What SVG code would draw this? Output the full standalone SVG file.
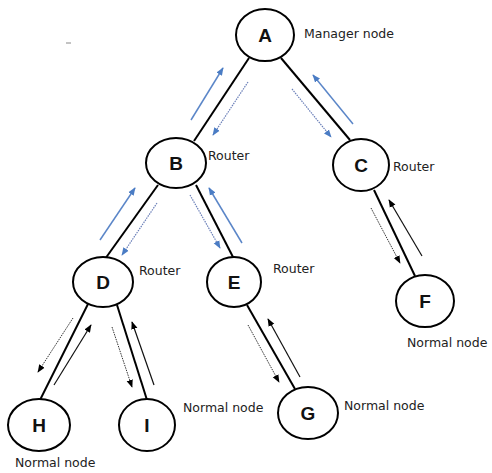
<svg xmlns="http://www.w3.org/2000/svg" width="492" height="473" viewBox="0 0 492 473">
<style>
.node ellipse{fill:#fff;stroke:#000;stroke-width:2}
.node text{font-family:"Liberation Sans",Arial,sans-serif;font-weight:bold;font-size:19px;text-anchor:middle;fill:#111}
.lbl{font-family:"DejaVu Sans",Verdana,sans-serif;font-size:12.5px;fill:#222}
.edge{stroke:#000;stroke-width:2;fill:none}
.bs{stroke:#5b86c8;stroke-width:1.5;fill:none;marker-end:url(#hb)}
.bd{stroke:#6a7fb8;stroke-width:1.2;stroke-dasharray:1.5 1;fill:none;marker-end:url(#hb)}
.ks{stroke:#111;stroke-width:1.2;fill:none;marker-end:url(#hk)}
.kd{stroke:#333;stroke-width:1;stroke-dasharray:1.5 1;fill:none;marker-end:url(#hk)}
</style>
<defs>
<marker id="hb" viewBox="0 0 10 10" refX="9" refY="5" markerWidth="8" markerHeight="8" markerUnits="userSpaceOnUse" orient="auto"><path d="M0,1 L10,5 L0,9 z" fill="#4a7cc4"/></marker>
<marker id="hk" viewBox="0 0 10 10" refX="9" refY="5" markerWidth="8" markerHeight="8" markerUnits="userSpaceOnUse" orient="auto"><path d="M0,1 L10,5 L0,9 z" fill="#000"/></marker>
</defs>
<rect width="492" height="473" fill="#fff"/>
<line x1="66" y1="43" x2="71" y2="43" stroke="#888" stroke-width="1"/>
<g id="connectors">
<line class="edge" x1="249" y1="58" x2="194" y2="141"/>
<line class="edge" x1="281" y1="58" x2="350" y2="140"/>
<line class="edge" x1="158" y1="185" x2="105" y2="259"/>
<line class="edge" x1="196" y1="185" x2="234" y2="259"/>
<line class="edge" x1="374" y1="190" x2="415" y2="276"/>
<line class="edge" x1="88" y1="304" x2="40" y2="400"/>
<line class="edge" x1="117" y1="305" x2="147" y2="400"/>
<line class="edge" x1="247" y1="305" x2="295" y2="389"/>
<line class="bs" x1="191" y1="120" x2="223" y2="68"/>
<line class="bd" x1="248" y1="82" x2="213" y2="135"/>
<line class="bs" x1="353" y1="124" x2="313" y2="75"/>
<line class="bd" x1="292" y1="89" x2="331" y2="137"/>
<line class="bs" x1="100" y1="240" x2="135" y2="188"/>
<line class="bd" x1="157" y1="203" x2="122" y2="255"/>
<line class="bs" x1="242" y1="243" x2="209" y2="188"/>
<line class="bd" x1="190" y1="195" x2="220" y2="248"/>
<line class="ks" x1="422" y1="256" x2="389" y2="200"/>
<line class="kd" x1="371" y1="208" x2="400" y2="263"/>
<line class="ks" x1="54" y1="385" x2="91" y2="325"/>
<line class="kd" x1="73" y1="318" x2="38" y2="372"/>
<line class="ks" x1="154" y1="385" x2="132" y2="322"/>
<line class="kd" x1="112" y1="327" x2="132" y2="387"/>
<line class="ks" x1="300" y1="377" x2="268" y2="319"/>
<line class="kd" x1="248" y1="325" x2="279" y2="382"/>
</g>
<g id="node-A" class="node"><ellipse cx="265" cy="35" rx="29" ry="26"/><text x="265" y="42">A</text></g>
<g id="node-B" class="node"><ellipse cx="176" cy="163" rx="30" ry="25"/><text x="176" y="170">B</text></g>
<g id="node-C" class="node"><ellipse cx="361" cy="165" rx="28" ry="26"/><text x="361" y="172">C</text></g>
<g id="node-D" class="node"><ellipse cx="103" cy="282" rx="30" ry="25"/><text x="103" y="289">D</text></g>
<g id="node-E" class="node"><ellipse cx="234" cy="282" rx="27" ry="25"/><text x="234" y="289">E</text></g>
<g id="node-F" class="node"><ellipse cx="425" cy="301" rx="29" ry="26"/><text x="425" y="308">F</text></g>
<g id="node-G" class="node"><ellipse cx="308" cy="413" rx="30" ry="26"/><text x="308" y="420">G</text></g>
<g id="node-H" class="node"><ellipse cx="39" cy="425" rx="31" ry="26"/><text x="39" y="432">H</text></g>
<g id="node-I" class="node"><ellipse cx="147" cy="425" rx="28" ry="26"/><text x="147" y="432">I</text></g>
<g id="labels">
<text class="lbl" x="304" y="38">Manager node</text>
<text class="lbl" x="208" y="160">Router</text>
<text class="lbl" x="393" y="171">Router</text>
<text class="lbl" x="139" y="275">Router</text>
<text class="lbl" x="273" y="273">Router</text>
<text class="lbl" x="407" y="347">Normal node</text>
<text class="lbl" x="344" y="410">Normal node</text>
<text class="lbl" x="183" y="412">Normal node</text>
<text class="lbl" x="15" y="467">Normal node</text>
</g>
</svg>
